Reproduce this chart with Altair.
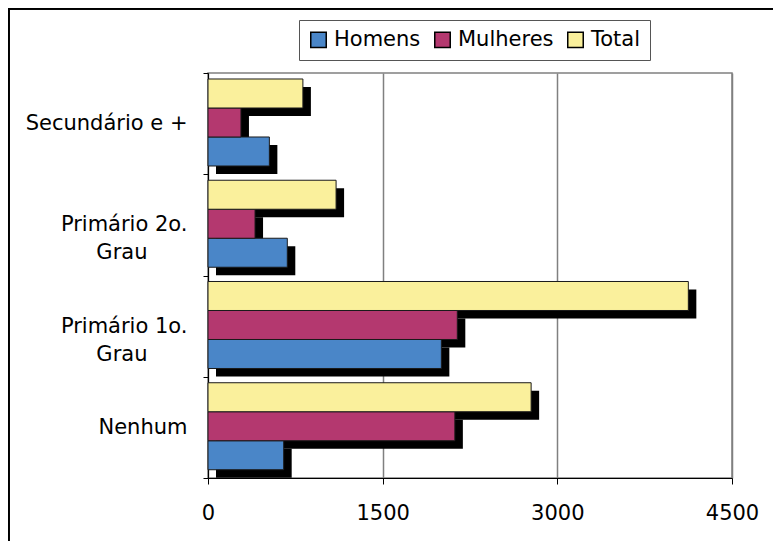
import altair as alt
import pandas as pd

PAD = "\u00a0" * 6 + "\u200b"
categories = ["Secundário e +", "Primário 2o.|Grau" + PAD,
              "Primário 1o.|Grau" + PAD, "Nenhum"]
series = ["Homens", "Mulheres", "Total"]
homens = [527, 681, 2004, 650]
mulheres = [283, 404, 2141, 2120]
total = [815, 1100, 4125, 2775]
colors = ["#4A86C8", "#B4386F", "#FAF09C"]
x_ticks = [0, 1500, 3000, 4500]

rows = []
for i, c in enumerate(categories):
    for s, vals in zip(series, [homens, mulheres, total]):
        rows.append({"cat": c, "serie": s, "valor": vals[i]})
df = pd.DataFrame(rows)

W, H = 524, 405
FONT = "DejaVu Sans"
PO = 0.2457

y_enc = alt.Y("cat:N", sort=categories, title=None,
              scale=alt.Scale(paddingInner=0, paddingOuter=0),
              axis=alt.Axis(labelExpr="split(datum.label, '|')", labelFont=FONT,
                            labelFontSize=21, labelColor="black", labelLineHeight=28,
                            labelPadding=16, tickSize=5, tickBand="extent",
                            tickColor="black", domainColor="black", grid=False))
x_enc = alt.X("valor:Q", title=None,
              scale=alt.Scale(domain=[0, 4500], nice=False),
              axis=alt.Axis(values=x_ticks, labelFont=FONT, labelFontSize=21,
                            labelColor="black", labelPadding=18, tickSize=6,
                            labelFlush=False,
                            tickColor="black", domainColor="black",
                            gridColor="#808080", gridWidth=1.5, format="d"))

order = ["Total", "Mulheres", "Homens"]

shadow = alt.Chart(df).mark_bar(color="black", xOffset=8).encode(
    x=x_enc, y=y_enc,
    yOffset=alt.YOffset("serie:N", sort=order,
                        scale=alt.Scale(paddingOuter=PO, paddingInner=0, align=0.98)))

bars = alt.Chart(df).mark_bar(stroke="#1a1a1a", strokeWidth=1).encode(
    x=x_enc, y=y_enc,
    yOffset=alt.YOffset("serie:N", sort=order,
                        scale=alt.Scale(paddingOuter=PO, paddingInner=0, align=0.42)),
    color=alt.Color("serie:N", sort=series, title=None,
                    scale=alt.Scale(domain=series, range=colors),
                    legend=alt.Legend(orient="none", direction="horizontal",
                                      legendX=91, legendY=-53,
                                      symbolType="square", symbolSize=240,
                                      symbolStrokeColor="black", symbolStrokeWidth=1.5,
                                      symbolOpacity=1,
                                      labelFont=FONT, labelFontSize=21, labelColor="black",
                                      labelOffset=5, columnPadding=10,
                                      padding=9, strokeColor="#555555",
                                      fillColor="white")))

frame_left = alt.Chart(df).mark_rule(color="black", strokeWidth=1.5).encode(
    x=alt.value(-199.5), y=alt.value(-64.5), y2=alt.value(H + 70))
frame_top = alt.Chart(df).mark_rule(color="black", strokeWidth=1.5).encode(
    x=alt.value(-200), x2=alt.value(W + 50), y=alt.value(-64.5))

chart = alt.layer(shadow, bars, frame_left, frame_top).resolve_scale(
    yOffset="independent"
).properties(
    width=W, height=H,
    autosize=alt.AutoSizeParams(type="none"),
    padding={"left": 200, "top": 65, "right": 41, "bottom": 63},
    background="white",
).configure_view(stroke="#808080", strokeWidth=1.5)

chart.save("out.html", embed_options={"renderer": "svg", "actions": False})
